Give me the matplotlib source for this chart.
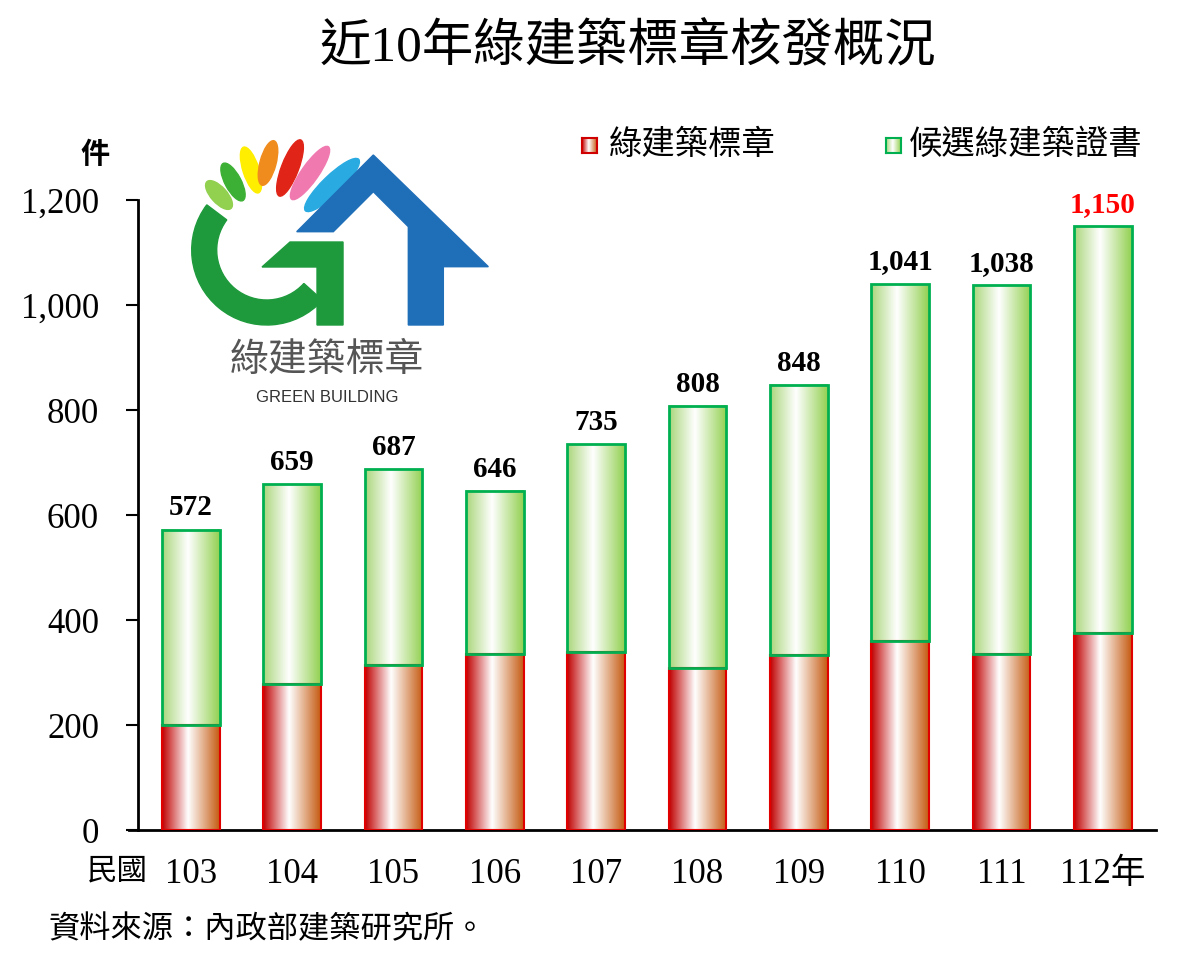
import matplotlib
matplotlib.use("Agg")
import matplotlib.pyplot as plt
import numpy as np
from matplotlib.colors import LinearSegmentedColormap
from matplotlib.patches import Ellipse, Polygon, Wedge

plt.rcParams['font.family'] = ['Liberation Serif', 'Noto Sans CJK TC']

# data
years = ['103', '104', '105', '106', '107', '108', '109', '110', '111', '112年']
total = [572, 659, 687, 646, 735, 808, 848, 1041, 1038, 1150]
label_mark = [200, 278, 315, 335, 340, 308, 333, 361, 336, 376]
label_cand = [t - m for t, m in zip(total, label_mark)]
series_names = ['綠建築標章', '候選綠建築證書']

red_cm = LinearSegmentedColormap.from_list('r', [(0, '#c00000'), (0.45, '#ffffff'), (1, '#c55a11')])
green_cm = LinearSegmentedColormap.from_list('g', [(0, '#a9d67a'), (0.45, '#ffffff'), (1, '#92d050')])
grad = np.linspace(0, 1, 256).reshape(1, -1)

fig = plt.figure(figsize=(12, 9.6), dpi=100)
ax = fig.add_axes([0.115, 0.1354, 0.848, 0.656])

x = np.arange(len(years))
w = 0.57
b1 = ax.bar(x, label_mark, w, facecolor='none', edgecolor='#e00000', linewidth=1.5, zorder=3)
b2 = ax.bar(x, label_cand, w, bottom=label_mark, facecolor='none', edgecolor='#00b050',
            linewidth=2, zorder=4)
for bars, cm in ((b1, red_cm), (b2, green_cm)):
    for p in bars:
        x0, y0 = p.get_x(), p.get_y()
        ax.imshow(grad, cmap=cm, aspect='auto', zorder=2,
                  extent=[x0, x0 + p.get_width(), y0, y0 + p.get_height()])

for xi, t in zip(x, total):
    ax.text(xi, t + 16, f'{t:,}', ha='center', va='bottom', fontsize=21, fontweight='bold',
            color='red' if xi == len(x) - 1 else 'black', family='Liberation Serif')

ax.set_xlim(-0.52, 9.52)
ax.set_ylim(0, 1200)
ax.set_yticks(range(0, 1201, 200))
ax.set_yticklabels([f'{v:,}' for v in range(0, 1201, 200)])
ax.set_xticks(x)
ax.set_xticklabels(years)
ax.tick_params(axis='y', labelsize=25, length=9, width=1.5, direction='out', pad=19)
ax.tick_params(axis='x', labelsize=25, length=0, pad=20)
for s in ('top', 'right'):
    ax.spines[s].set_visible(False)
for s in ('left', 'bottom'):
    ax.spines[s].set_linewidth(2)
ax.spines['bottom'].set_bounds(-0.61, 9.52)
ax.spines['bottom'].set_clip_on(False)

fig.text(0.523, 0.95, '近10年綠建築標章核發概況', ha='center', va='center', fontsize=37)
fig.text(0.079, 0.838, '件', ha='center', va='center', fontsize=21, fontweight='bold')
fig.text(0.098, 0.092, '民國', ha='center', va='center', fontsize=22)
fig.text(0.04, 0.031, '資料來源：內政部建築研究所。', ha='left', va='center', fontsize=22.5)

# legend
for lx, cm, ec, tx, name in ((0.485, red_cm, '#d00000', 0.507, series_names[0]),
                             (0.738, green_cm, '#00b050', 0.757, series_names[1])):
    la = fig.add_axes([lx, 0.841, 0.0125, 0.0156])
    la.imshow(grad, cmap=cm, aspect='auto', extent=[0, 1, 0, 1])
    la.set_xticks([])
    la.set_yticks([])
    for sp in la.spines.values():
        sp.set_color(ec)
        sp.set_linewidth(1.5)
    fig.text(tx, 0.849, name, ha='left', va='center', fontsize=24)

# logo
lg = fig.add_axes([0.15, 0.5625, 0.2667, 0.3125])
lg.set_xlim(0, 320)
lg.set_ylim(300, 0)
lg.axis('off')
rays = [((39, 75), 36, 16, 48, '#92d050'), ((53, 62), 42, 16, 62, '#3cb034'),
        ((71, 50), 48, 16, 72, '#ffee00'), ((88, 43), 46, 16, 105, '#f08c1e'),
        ((110, 48), 60, 17, 111, '#e02418'), ((130, 53), 64, 17, 125, '#f07ab0'),
        ((152, 65), 74, 19, 136, '#29abe2')]
for c, l, h, ang, col in rays:
    lg.add_patch(Ellipse(c, l, h, angle=ang, color=col))
lg.add_patch(Wedge((86.7, 130), 75, 42, 217, width=25, color='#1e9a3c'))
lg.add_patch(Polygon([(82, 147), (110, 122), (163, 122), (163, 205), (137, 205), (137, 147)],
                     color='#1e9a3c'))
lg.add_patch(Polygon([(116.7, 111.7), (193.3, 35), (308.3, 146.7), (263.3, 146.7), (263.3, 205),
                      (228.3, 205), (228.3, 106.7), (193.3, 71.7), (153.3, 111.7)],
                     color='#1f6eb8'))
lg.text(147, 240, '綠建築標章', ha='center', va='center', fontsize=28, color='#555555',
        family='Noto Sans CJK TC')
lg.text(147, 277, 'GREEN BUILDING', ha='center', va='center', fontsize=12, color='#333333',
        family='Liberation Sans')

fig.savefig('out.png', dpi=100)
